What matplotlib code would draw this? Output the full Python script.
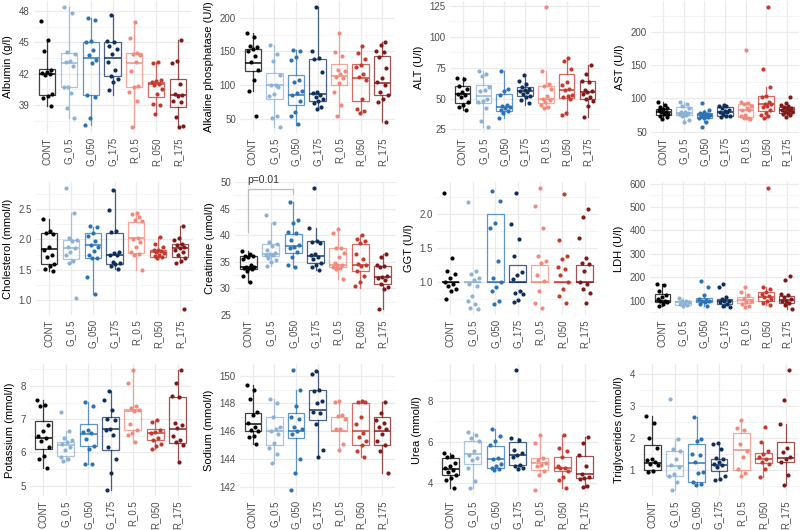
import numpy as np
import matplotlib
matplotlib.use('Agg')
import matplotlib.pyplot as plt
from matplotlib.ticker import AutoMinorLocator

plt.rcParams['font.family'] = ['Liberation Sans', 'DejaVu Sans']

groups = ['CONT', 'G_0.5', 'G_050', 'G_175', 'R_0.5', 'R_050', 'R_175']
colors = ['#000000', '#8CB2D6', '#2C73B5', '#0E2F5C', '#EF8A7C', '#C53A30', '#7E1A1A']

# points (as plotted) and box stats (whislo, q1, med, q3, whishi) per group
albumin_pts = [[47.1, 45.2, 44.2, 42.4, 42.2, 42.1, 42.0, 41.9, 40.1, 39.9, 39.7, 38.9],
               [48.4, 47.8, 44.1, 43.9, 43.2, 43.1, 42.7, 40.7, 40.7, 40.2, 38.7, 37.8],
               [47.3, 47.2, 45.1, 45.0, 44.3, 43.8, 43.3, 43.0, 40.0, 39.8, 37.8, 37.1],
               [47.6, 45.1, 45.0, 44.7, 44.4, 43.9, 43.1, 42.4, 41.8, 41.5, 41.2, 40.4],
               [47.0, 45.4, 44.0, 43.9, 43.8, 43.1, 42.3, 40.8, 40.7, 40.3, 39.4, 36.9],
               [43.1, 43.0, 41.4, 41.3, 41.2, 41.0, 40.9, 40.5, 40.1, 39.1, 39.0, 38.1],
               [45.2, 43.2, 43.0, 41.0, 40.1, 40.0, 39.9, 39.4, 39.3, 37.9, 37.0, 36.9]]
albumin_box = [(38.9, 40.0, 42.0, 42.5, 45.2), (37.8, 40.75, 43.0, 44.0, 48.4),
               (37.1, 40.0, 43.5, 45.0, 47.3), (40.0, 41.75, 43.5, 45.0, 47.6),
               (36.9, 40.75, 43.0, 44.0, 47.0), (38.1, 39.8, 41.0, 41.2, 43.1),
               (37.0, 38.8, 40.0, 41.5, 45.2)]
albumin_ticks = [39, 42, 45, 48]

alkp_pts = [[177, 172, 158, 157, 154, 150, 144, 134, 122, 108, 91, 54],
            [159, 147, 136, 115, 101, 100, 97, 87, 84, 55, 52, 38],
            [152, 150, 142, 137, 108, 105, 91, 88, 85, 77, 60, 54, 42],
            [216, 150, 140, 139, 119, 90, 88, 86, 82, 80, 76, 73, 67, 65],
            [178, 149, 144, 123, 121, 116, 112, 110, 104, 90, 70, 54],
            [158, 148, 139, 130, 127, 116, 112, 108, 80, 65, 62, 59],
            [164, 160, 151, 149, 142, 126, 111, 105, 101, 90, 85, 80, 75, 45]]
alkp_box = [(91, 120.5, 133.4, 153, 177), (37.6, 78.8, 99.7, 118.5, 159),
            (41.5, 71, 86.2, 114.6, 152), (65, 77.3, 87.2, 138.4, 216),
            (53.5, 99.7, 113.6, 131, 178), (59, 77.3, 110.6, 131, 158),
            (45, 85.7, 103, 143.4, 164)]
alkp_ticks = [50, 100, 150, 200]

alt_pts = [[67, 66, 60, 58, 55, 54, 53, 51, 47, 45, 43, 41],
           [72, 70, 68, 59, 57, 56, 50, 48, 47, 42, 32, 27],
           [72, 58, 56, 53, 45, 44, 43, 42, 41, 40, 38, 34],
           [69, 64, 62, 59, 58, 57, 56, 55, 54, 52, 51, 49, 46],
           [124, 72, 62, 60, 58, 52, 50, 49, 47, 45, 43, 42],
           [83, 80, 74, 63, 61, 58, 57, 53, 52, 51, 50, 38, 37],
           [77, 70, 64, 63, 57, 56, 55, 54, 51, 50, 48, 44, 35]]
alt_box = [(41, 46.4, 54, 59.9, 67.4), (27, 46.4, 52.3, 61.2, 71.9),
           (34.4, 39.7, 43.2, 53.7, 71.9), (45, 51.8, 55.8, 59, 69),
           (42, 46.4, 49.7, 59.9, 71.9), (37, 50.5, 57.2, 70, 82.6),
           (35, 49.7, 55.3, 63.9, 77)]
alt_ticks = [25, 50, 75, 100, 125]

ast_pts = [[95, 90, 87, 85, 84, 82, 80, 79, 77, 76, 74, 72, 69],
           [95, 92, 88, 85, 80, 79, 78, 77, 76, 75, 73, 67, 64],
           [93, 83, 79, 78, 77, 76, 75, 74, 73, 72, 71, 70, 65, 57],
           [90, 89, 88, 86, 83, 81, 80, 79, 76, 74, 73, 72],
           [173, 95, 93, 92, 89, 86, 83, 82, 75, 73, 71, 70, 69],
           [238, 144, 117, 104, 103, 95, 92, 91, 89, 87, 82, 78, 75, 73, 70],
           [103, 93, 90, 88, 87, 85, 84, 83, 82, 80, 79, 78, 77, 75, 72]]
ast_box = [(68.6, 75.2, 80.2, 83.7, 95.3), (63.6, 75.2, 77.7, 86.8, 95.3),
           (65.1, 71.2, 75.2, 78.7, 82.7), (71.7, 73.7, 80.2, 86.8, 90.3),
           (68.6, 71.7, 82.7, 91.3, 95.3), (70.2, 81.2, 91.8, 103.9, 117),
           (71.7, 77.7, 82.7, 87.8, 92.8)]
ast_ticks = [50, 100, 150, 200]

chol_pts = [[2.33, 2.13, 2.11, 2.08, 1.88, 1.82, 1.74, 1.71, 1.60, 1.57, 1.51, 1.48],
            [2.84, 2.43, 2.02, 1.99, 1.97, 1.88, 1.85, 1.80, 1.74, 1.64, 1.62, 1.04],
            [2.22, 2.20, 2.11, 2.05, 1.97, 1.90, 1.88, 1.81, 1.74, 1.70, 1.69, 1.39, 1.11],
            [2.80, 2.48, 2.13, 2.12, 1.80, 1.77, 1.75, 1.74, 1.63, 1.61, 1.59, 1.57, 1.52],
            [2.43, 2.41, 2.37, 2.32, 2.30, 2.02, 2.01, 1.96, 1.88, 1.80, 1.76, 1.74, 1.50],
            [2.04, 1.93, 1.88, 1.83, 1.82, 1.81, 1.80, 1.78, 1.75, 1.72, 1.71, 1.70],
            [2.22, 2.02, 1.99, 1.93, 1.91, 1.87, 1.86, 1.82, 1.79, 1.74, 1.69, 1.65, 1.62, 0.86]]
chol_box = [(1.48, 1.60, 1.84, 2.10, 2.335), (1.62, 1.67, 1.85, 1.99, 2.43),
            (1.11, 1.70, 1.90, 2.10, 2.21), (1.52, 1.60, 1.75, 2.10, 2.80),
            (1.50, 1.77, 2.02, 2.29, 2.43), (1.70, 1.71, 1.80, 1.82, 2.04),
            (1.62, 1.71, 1.86, 1.92, 2.225)]
chol_ticks = [1.0, 1.5, 2.0, 2.5]

creat_pts = [[37.0, 36.5, 36.1, 36.0, 35.9, 35.6, 34.4, 34.1, 34.0, 33.9, 33.8, 33.7, 33.3, 32.4, 31.2],
             [43.8, 42.3, 38.8, 38.3, 38.0, 37.2, 36.6, 36.5, 36.3, 36.2, 35.8, 35.4, 34.9, 34.2],
             [46.3, 42.8, 42.3, 40.6, 40.4, 39.1, 38.2, 37.8, 37.5, 36.9, 35.9, 34.3, 34.0],
             [48.9, 41.3, 39.0, 38.8, 38.5, 36.5, 36.2, 35.9, 35.5, 34.8, 34.3, 34.0, 33.5],
             [41.2, 40.4, 37.6, 37.5, 36.7, 35.9, 34.8, 34.4, 34.3, 34.0, 33.9, 33.7, 31.7],
             [40.1, 39.2, 38.9, 38.5, 36.5, 35.6, 34.6, 34.3, 34.2, 33.3, 32.4, 31.1, 30.4],
             [36.4, 35.9, 34.3, 34.2, 34.0, 32.4, 32.2, 32.0, 31.5, 30.8, 30.3, 29.8, 26.1]]
creat_box = [(31.2, 33.7, 34.0, 36.0, 37.0), (34.2, 36.1, 36.5, 38.3, 42.3),
             (34.0, 36.7, 38.0, 40.2, 46.3), (33.5, 34.8, 36.0, 39.0, 41.3),
             (31.7, 34.0, 34.4, 37.5, 41.2), (30.0, 33.2, 34.4, 38.3, 40.1),
             (26.1, 30.8, 32.1, 34.2, 36.4)]
creat_ticks = [25, 30, 35, 40, 45, 50]
# significance bracket CONT vs G_050
bracket_x = [0, 0, 2, 2]
bracket_y = [40.7, 48.7, 48.7, 47.8]
bracket_label = 'p=0.01'
bracket_label_y = 50.4

ggt_pts = [[2.31, 1.36, 1.16, 1.12, 1.06, 1.01, 0.98, 0.95, 0.90, 0.88, 0.76],
           [2.17, 1.17, 1.12, 1.07, 1.04, 0.98, 0.95, 0.80, 0.72, 0.68, 0.63, 0.61],
           [2.33, 2.19, 1.87, 1.80, 1.31, 1.06, 1.00, 0.93, 0.88, 0.73, 0.68],
           [2.31, 1.86, 1.64, 1.39, 1.15, 1.10, 1.05, 0.88, 0.85, 0.83, 0.74, 0.71],
           [2.38, 2.12, 1.79, 1.39, 1.31, 1.29, 1.11, 1.02, 0.88, 0.70, 0.63],
           [2.29, 1.62, 1.39, 1.34, 1.22, 1.20, 1.10, 1.00, 0.90, 0.80, 0.70],
           [2.08, 1.95, 1.65, 1.36, 1.29, 1.27, 1.17, 1.00, 0.98, 0.90, 0.85, 0.69]]
ggt_box = [(1, 1, 1, 1, 1), (1, 1, 1, 1, 1), (1, 1, 1, 2, 2), (1, 1, 1, 1.25, 1.25),
           (1, 1, 1, 1.25, 1.25), (1, 1, 1, 1, 1), (1, 1, 1, 1.25, 1.25)]
ggt_ticks = [1.0, 1.5, 2.0]

ldh_pts = [[172, 165, 139, 124, 114, 107, 100, 96, 93, 86, 76],
           [110, 100, 96, 93, 90, 86, 81, 78],
           [182, 157, 122, 107, 104, 100, 97, 93, 86, 78],
           [172, 157, 114, 107, 100, 96, 93, 86, 78, 71],
           [157, 136, 122, 107, 100, 93, 86, 78, 71],
           [581, 157, 150, 136, 129, 119, 114, 107, 96, 89, 81],
           [205, 186, 129, 122, 114, 107, 100, 96, 90, 81, 64]]
ldh_box = [(76, 93, 100, 129, 172), (78, 81, 93, 100, 110), (78, 93, 100, 110, 122),
           (71, 86, 97, 107, 114), (71, 90, 104, 114, 136), (81, 100, 114, 136, 157),
           (64, 90, 104, 119, 129)]
ldh_ticks = [100, 200, 300, 400, 500, 600]

potassium_pts = [[7.58, 7.42, 7.39, 6.82, 6.65, 6.48, 6.44, 6.34, 6.16, 5.88, 5.81, 5.54],
                 [7.22, 6.65, 6.44, 6.36, 6.31, 6.24, 6.16, 6.06, 5.86, 5.81, 5.74],
                 [7.53, 7.39, 6.67, 6.62, 6.57, 6.41, 6.18, 6.11, 5.66, 5.64],
                 [7.86, 7.58, 7.29, 7.02, 6.97, 6.72, 6.69, 6.52, 6.16, 5.81, 5.37, 4.87],
                 [8.48, 8.08, 7.39, 7.35, 7.29, 7.25, 6.87, 6.67, 6.57, 6.52, 6.31],
                 [6.97, 6.92, 6.67, 6.62, 6.57, 6.44, 6.36, 6.24, 6.18, 6.11],
                 [8.48, 8.10, 7.70, 7.68, 6.89, 6.82, 6.75, 6.48, 6.38, 6.31, 6.21, 5.70]]
potassium_box = [(5.54, 6.11, 6.44, 6.95, 7.58), (5.74, 5.88, 6.23, 6.31, 6.65),
                 (5.64, 6.18, 6.55, 6.87, 7.53), (4.87, 6.08, 6.70, 7.07, 7.86),
                 (6.31, 6.67, 7.25, 7.32, 8.48), (6.11, 6.36, 6.57, 6.70, 6.97),
                 (5.70, 6.29, 6.70, 7.68, 8.48)]
potassium_ticks = [5, 6, 7, 8]

sodium_pts = [[149.3, 149.0, 148.3, 147.4, 147.2, 146.6, 146.3, 146.1, 146.0, 145.7, 145.6, 145.1],
              [148.3, 148.0, 147.0, 146.3, 146.2, 146.0, 145.8, 145.2, 144.8, 144.4, 143.7],
              [150.4, 149.0, 147.8, 147.0, 146.9, 146.3, 146.2, 146.0, 145.8, 144.0, 143.0, 141.8],
              [150.3, 150.1, 149.0, 148.9, 148.2, 148.0, 147.4, 147.3, 146.5, 144.7, 144.2],
              [148.2, 148.1, 147.2, 147.1, 146.9, 146.2, 146.2, 145.1, 144.7],
              [148.2, 148.1, 148.1, 147.0, 146.5, 145.9, 145.6, 145.3, 145.0, 144.6, 144.2],
              [148.1, 147.3, 146.8, 146.6, 146.3, 146.2, 145.8, 145.3, 145.0, 144.6, 143.0]]
sodium_box = [(145.1, 146.0, 146.5, 147.3, 149.3), (143.7, 145.0, 146.0, 147.0, 148.3),
              (143.0, 145.5, 146.0, 147.3, 149.0), (144.2, 146.8, 147.5, 149.0, 150.3),
              (144.6, 146.0, 146.0, 147.0, 148.2), (144.2, 145.0, 146.0, 148.0, 148.2),
              (143.0, 145.0, 146.0, 147.0, 148.1)]
sodium_ticks = [142, 144, 146, 148, 150]

urea_pts = [[5.45, 5.28, 5.23, 4.95, 4.79, 4.71, 4.63, 4.54, 4.38, 4.25, 4.13, 3.75],
            [6.47, 6.35, 6.16, 6.02, 5.53, 5.37, 5.20, 5.12, 4.71, 4.08, 3.75],
            [6.63, 6.27, 6.02, 5.86, 5.20, 5.17, 4.91, 4.79, 4.71, 4.67, 4.63],
            [9.51, 6.16, 6.11, 5.61, 5.45, 5.37, 5.23, 4.87, 4.79, 4.71, 4.67],
            [6.32, 5.94, 5.20, 5.12, 4.95, 4.87, 4.79, 4.58, 4.35, 3.64],
            [6.32, 5.70, 5.53, 5.23, 4.79, 4.74, 4.71, 4.58, 4.30, 4.13, 3.72],
            [6.22, 5.94, 5.33, 4.79, 4.41, 4.30, 4.21, 4.16, 3.85, 3.80]]
urea_box = [(3.75, 4.38, 4.67, 5.20, 5.45), (3.75, 4.91, 5.40, 6.06, 6.47),
            (4.63, 4.71, 5.17, 5.78, 6.63), (4.67, 4.87, 5.33, 5.99, 6.16),
            (4.35, 4.63, 4.95, 5.20, 6.32), (3.72, 4.58, 4.74, 5.23, 6.32),
            (3.80, 4.21, 4.41, 5.32, 6.22)]
urea_ticks = [4, 6, 8]

trig_pts = [[2.70, 2.45, 1.98, 1.68, 1.34, 1.29, 1.23, 1.18, 1.13, 0.97, 0.91],
            [3.23, 1.96, 1.64, 1.57, 1.34, 1.13, 1.07, 0.86, 0.81, 0.62, 0.36],
            [2.64, 1.96, 1.89, 1.50, 1.47, 1.23, 0.94, 0.89, 0.60, 0.54, 0.51],
            [1.85, 1.79, 1.64, 1.36, 1.34, 1.23, 1.18, 1.13, 1.07, 0.79, 0.72, 0.68],
            [2.56, 2.30, 2.24, 1.82, 1.57, 1.39, 1.02, 0.89, 0.81],
            [2.35, 1.87, 1.57, 1.50, 1.39, 1.32, 1.23, 1.18, 1.02, 0.76],
            [4.13, 3.20, 2.43, 1.68, 1.55, 1.39, 1.32, 1.23, 0.83, 0.51]]
trig_box = [(0.91, 1.00, 1.21, 1.77, 2.70), (0.36, 0.81, 1.11, 1.59, 1.96),
            (0.51, 0.60, 1.20, 1.82, 2.64), (0.68, 0.97, 1.15, 1.32, 1.85),
            (0.81, 1.00, 1.61, 2.16, 2.56), (0.76, 1.20, 1.34, 1.53, 1.87),
            (0.51, 1.23, 1.36, 1.87, 2.43)]
trig_ticks = [1, 2, 3, 4]

panels = [
    ('Albumin (g/l)', albumin_pts, albumin_box, albumin_ticks, (34, 191, 1, 133)),
    ('Alkaline phosphatase (U/l)', alkp_pts, alkp_box, alkp_ticks, (240, 395, 1, 133)),
    ('ALT (U/l)', alt_pts, alt_box, alt_ticks, (450, 600, 1, 133)),
    ('AST (U/l)', ast_pts, ast_box, ast_ticks, (651, 799, 1, 133)),
    ('Cholesterol (mmol/l)', chol_pts, chol_box, chol_ticks, (36, 193, 182, 315)),
    ('Creatinine (umol/l)', creat_pts, creat_box, creat_ticks, (235, 396, 182, 315)),
    ('GGT (U/l)', ggt_pts, ggt_box, ggt_ticks, (437, 598, 182, 315)),
    ('LDH (U/l)', ldh_pts, ldh_box, ldh_ticks, (650, 799, 182, 315)),
    ('Potassium (mmol/l)', potassium_pts, potassium_box, potassium_ticks, (30, 191, 364, 496)),
    ('Sodium (mmol/l)', sodium_pts, sodium_box, sodium_ticks, (240, 395, 364, 496)),
    ('Urea (mmol/l)', urea_pts, urea_box, urea_ticks, (437, 598, 364, 496)),
    ('Triglycerides (mmol/l)', trig_pts, trig_box, trig_ticks, (639, 799, 364, 496)),
]

W, H = 800, 530
fig = plt.figure(figsize=(W / 100, H / 100), dpi=100)

for label, pts, box, ticks, (l, r, t, b) in panels:
    ax = fig.add_axes([l / W, 1 - b / H, (r - l) / W, (b - t) / H])
    ax.set_axisbelow(True)

    stats = [dict(whislo=s[0], q1=s[1], med=s[2], q3=s[3], whishi=s[4], fliers=[]) for s in box]
    bp = ax.bxp(stats, positions=range(len(groups)), widths=0.75, showfliers=False,
                showcaps=False, patch_artist=True)
    for i, c in enumerate(colors):
        bp['boxes'][i].set(facecolor='none', edgecolor=c, linewidth=0.9, alpha=0.75)
        bp['medians'][i].set(color=c, linewidth=1.4, alpha=0.75)
        for w in bp['whiskers'][2 * i:2 * i + 2]:
            w.set(color=c, linewidth=0.9, alpha=0.75)

    for i, vals in enumerate(pts):
        n = len(vals)
        offs = ((np.arange(n) * 0.618034 + 0.13 * i) % 1.0 - 0.5) * 0.55
        ax.scatter(i + offs, vals, s=9, color=colors[i], linewidths=0, zorder=3)

    allv = np.concatenate([np.asarray(v, float) for v in pts])
    lo, hi = allv.min(), allv.max()
    pad = (hi - lo) * 0.05
    ax.set_ylim(lo - pad, hi + pad)
    ax.set_xlim(-0.6, len(groups) - 0.4)

    if label.startswith('Creatinine'):
        ax.plot(bracket_x, bracket_y, color='#BDBDBD', linewidth=0.9, zorder=2)
        ax.text(-0.05, bracket_label_y, bracket_label, fontsize=7.5, color='#333333',
                ha='left', va='center')

    ax.set_yticks(ticks)
    if any(float(v) != int(v) for v in ticks):
        ax.set_yticklabels(['%.1f' % v for v in ticks])
    else:
        ax.set_yticklabels(['%d' % v for v in ticks])
    ax.yaxis.set_minor_locator(AutoMinorLocator(2))
    ax.set_xticks(range(len(groups)))
    ax.set_xticklabels(groups, rotation=90)

    ax.grid(which='major', color='#EBEBEB', linewidth=0.9)
    ax.grid(which='minor', axis='y', color='#F2F2F2', linewidth=0.6)
    for sp in ax.spines.values():
        sp.set_visible(False)
    ax.tick_params(which='both', length=0, labelsize=7, labelcolor='#4D4D4D', pad=3)
    ax.set_ylabel(label, fontsize=8, color='#000000', labelpad=4)

fig.savefig('out.png', dpi=100)
